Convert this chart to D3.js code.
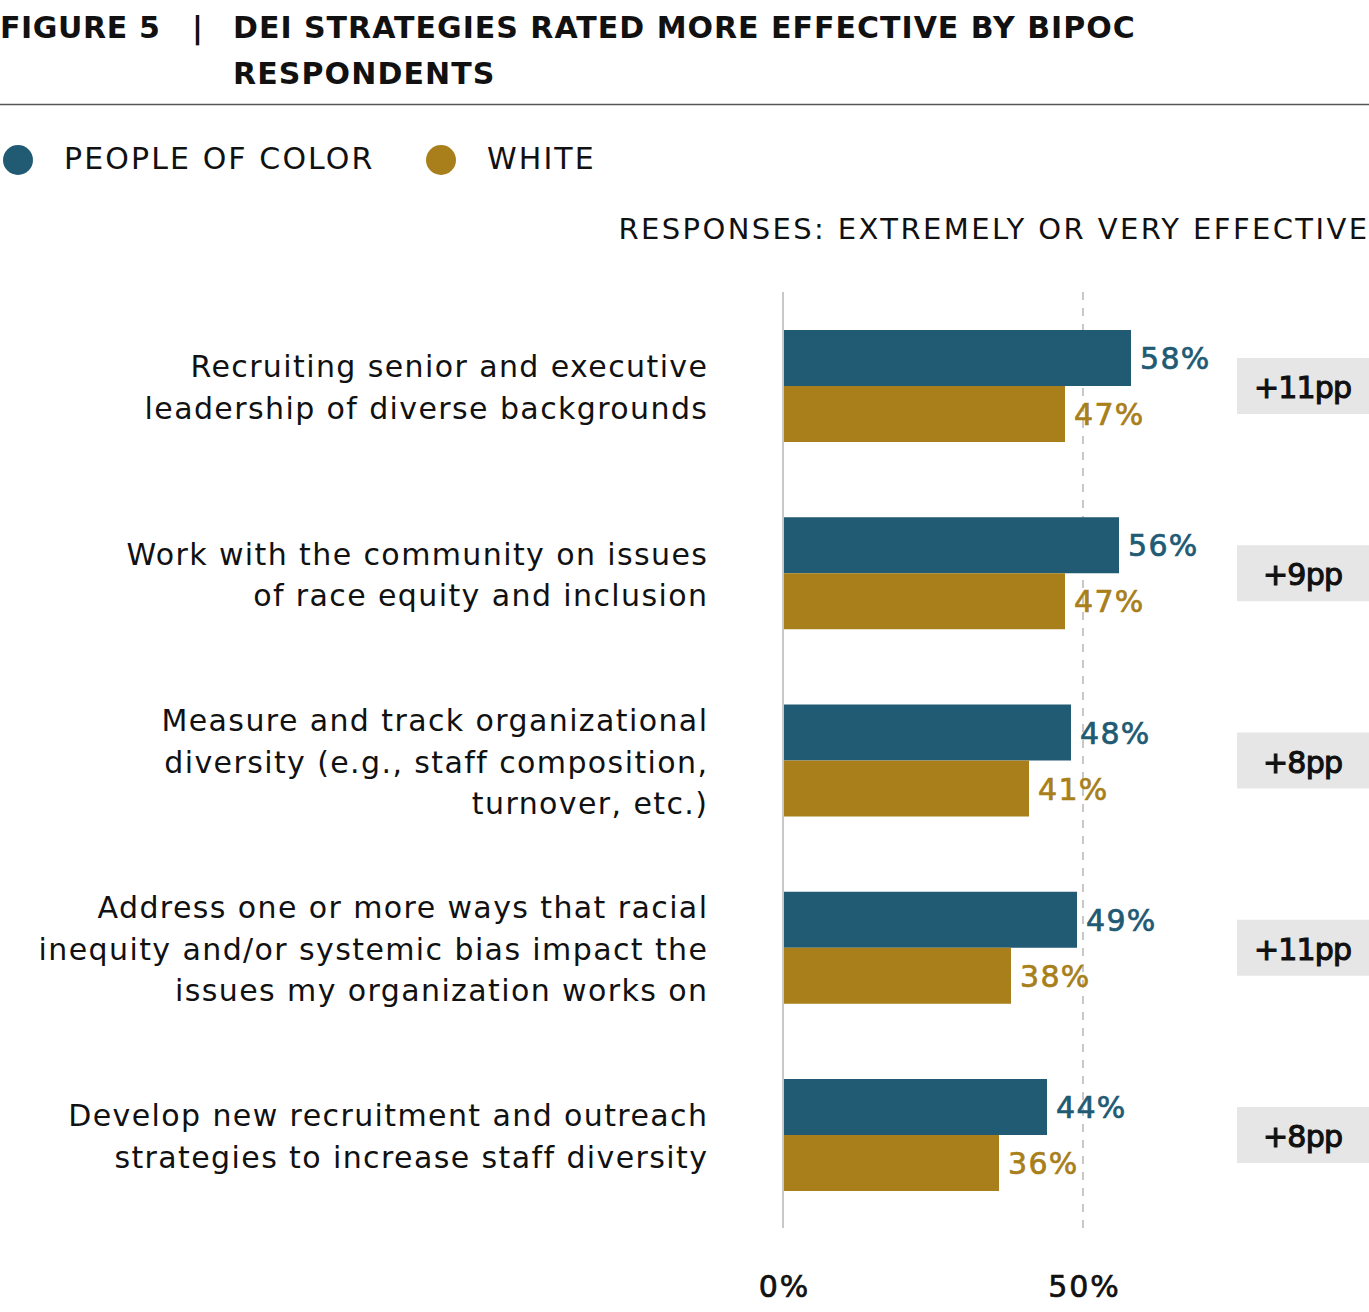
<!DOCTYPE html>
<html>
<head>
<meta charset="utf-8">
<script src="https://cdn.jsdelivr.net/npm/d3@7"></script>
<style>
  html, body { margin: 0; padding: 0; background: #fff; }
  svg { display: block; }
  text { font-family: "DejaVu Sans", sans-serif; }
</style>
</head>
<body>
<svg id="chart" width="1369" height="1312"></svg>
<script>
const categories = [
  ["Recruiting senior and executive", "leadership of diverse backgrounds"],
  ["Work with the community on issues", "of race equity and inclusion"],
  ["Measure and track organizational", "diversity (e.g., staff composition,", "turnover, etc.)"],
  ["Address one or more ways that racial", "inequity and/or systemic bias impact the", "issues my organization works on"],
  ["Develop new recruitment and outreach", "strategies to increase staff diversity"]
];
const seriesNames = ["PEOPLE OF COLOR", "WHITE"];
const pocValues = [58, 56, 48, 49, 44];
const whiteValues = [47, 47, 41, 38, 36];
const gapLabels = ["+11pp", "+9pp", "+8pp", "+11pp", "+8pp"];
const tickValues = [0, 50];
const colors = ["#215a73", "#a87f1a"];

const svg = d3.select("#chart");
const ids = categories.map((c, i) => i);

const x = d3.scaleLinear().domain([0, 50]).range([783, 1083]);
const yc = d3.scalePoint().domain(ids).range([386, 1135]);
const ys = d3.scaleBand().domain([0, 1]).range([-56, 56]).padding(0);

// Title
const title = svg.append("g").attr("font-weight", 700).attr("font-size", 30).attr("fill", "#111");
title.append("text").attr("x", 0).attr("y", 38).attr("letter-spacing", 0.6).text("FIGURE 5");
title.append("text").attr("x", 192).attr("y", 38).text("|");
title.append("text").attr("x", 233).attr("y", 38).attr("letter-spacing", 1).text("DEI STRATEGIES RATED MORE EFFECTIVE BY BIPOC");
title.append("text").attr("x", 233).attr("y", 84).attr("letter-spacing", 1.1).text("RESPONDENTS");
svg.append("line").attr("x1", 0).attr("x2", 1369).attr("y1", 104.5).attr("y2", 104.5)
  .attr("stroke", "#555").attr("stroke-width", 1.5);

// Legend
const legendX = [18, 441];
seriesNames.forEach((n, i) => {
  svg.append("circle").attr("cx", legendX[i]).attr("cy", 160).attr("r", 15).attr("fill", colors[i]);
  svg.append("text").attr("x", legendX[i] + 46).attr("y", 169).attr("font-size", 30)
    .attr("letter-spacing", 2.1).attr("fill", "#111").text(n);
});

svg.append("text").attr("x", 1367).attr("dx", 2.4).attr("y", 239).attr("text-anchor", "end")
  .attr("font-size", 29).attr("letter-spacing", 2.4).attr("fill", "#111").text("RESPONSES: EXTREMELY OR VERY EFFECTIVE");

// Gridlines
svg.append("line").attr("x1", x(50)).attr("x2", x(50)).attr("y1", 292).attr("y2", 1228)
  .attr("stroke", "#c8c8c8").attr("stroke-width", 2).attr("stroke-dasharray", "8,8");

// Bars
const data = ids.map(i => ({ i, vals: [pocValues[i], whiteValues[i]] }));
const groups = svg.append("g").selectAll("g").data(data).join("g")
  .attr("transform", d => `translate(0,${yc(d.i)})`);

groups.selectAll("rect").data(d => d.vals.map((v, s) => ({ v, s }))).join("rect")
  .attr("x", x(0)).attr("y", d => ys(d.s)).attr("width", d => x(d.v) - x(0))
  .attr("height", ys.bandwidth()).attr("fill", d => colors[d.s]);

groups.selectAll("text.val").data(d => d.vals.map((v, s) => ({ v, s }))).join("text")
  .attr("class", "val")
  .attr("x", d => x(d.v) + 9).attr("y", d => ys(d.s) + ys.bandwidth() / 2)
  .attr("dy", "0.37em").attr("font-size", 30).attr("letter-spacing", 1.3)
  .attr("stroke", d => colors[d.s]).attr("stroke-width", 0.7)
  .attr("fill", d => colors[d.s]).text(d => d.v + "%");

// Category labels
groups.each(function (d) {
  const lines = categories[d.i];
  const lh = 41.5;
  const g = d3.select(this);
  lines.forEach((ln, k) => {
    g.append("text").attr("x", 707).attr("dx", 1.4).attr("text-anchor", "end")
      .attr("y", (k - (lines.length - 1) / 2) * lh + 1).attr("dy", "0.37em")
      .attr("font-size", 30).attr("letter-spacing", 1.4).attr("fill", "#111").text(ln);
  });
  g.append("rect").attr("x", 1237).attr("y", -28).attr("width", 132).attr("height", 56).attr("fill", "#e6e6e6");
  g.append("text").attr("x", 1303).attr("y", 1).attr("dy", "0.37em").attr("text-anchor", "middle")
    .attr("font-size", 30).attr("letter-spacing", -0.8).attr("dx", -0.4)
    .attr("stroke", "#111").attr("stroke-width", 1.1).attr("fill", "#111").text(gapLabels[d.i]);
});

// Axis line at 0
svg.append("line").attr("x1", x(0)).attr("x2", x(0)).attr("y1", 292).attr("y2", 1228)
  .attr("stroke", "#c8c8c8").attr("stroke-width", 2);

// Tick labels
const axis = d3.axisBottom(x).tickValues(tickValues).tickFormat(d => d + "%").tickSize(0).tickPadding(0);
const ag = svg.append("g").attr("transform", "translate(0,1276)").call(axis);
ag.select(".domain").remove();
ag.selectAll("text").attr("font-size", 30).attr("fill", "#111")
  .attr("letter-spacing", 2).attr("dx", 1)
  .attr("stroke", "#111").attr("stroke-width", 0.7)
  .attr("font-family", "'DejaVu Sans', sans-serif");
</script>
</body>
</html>
